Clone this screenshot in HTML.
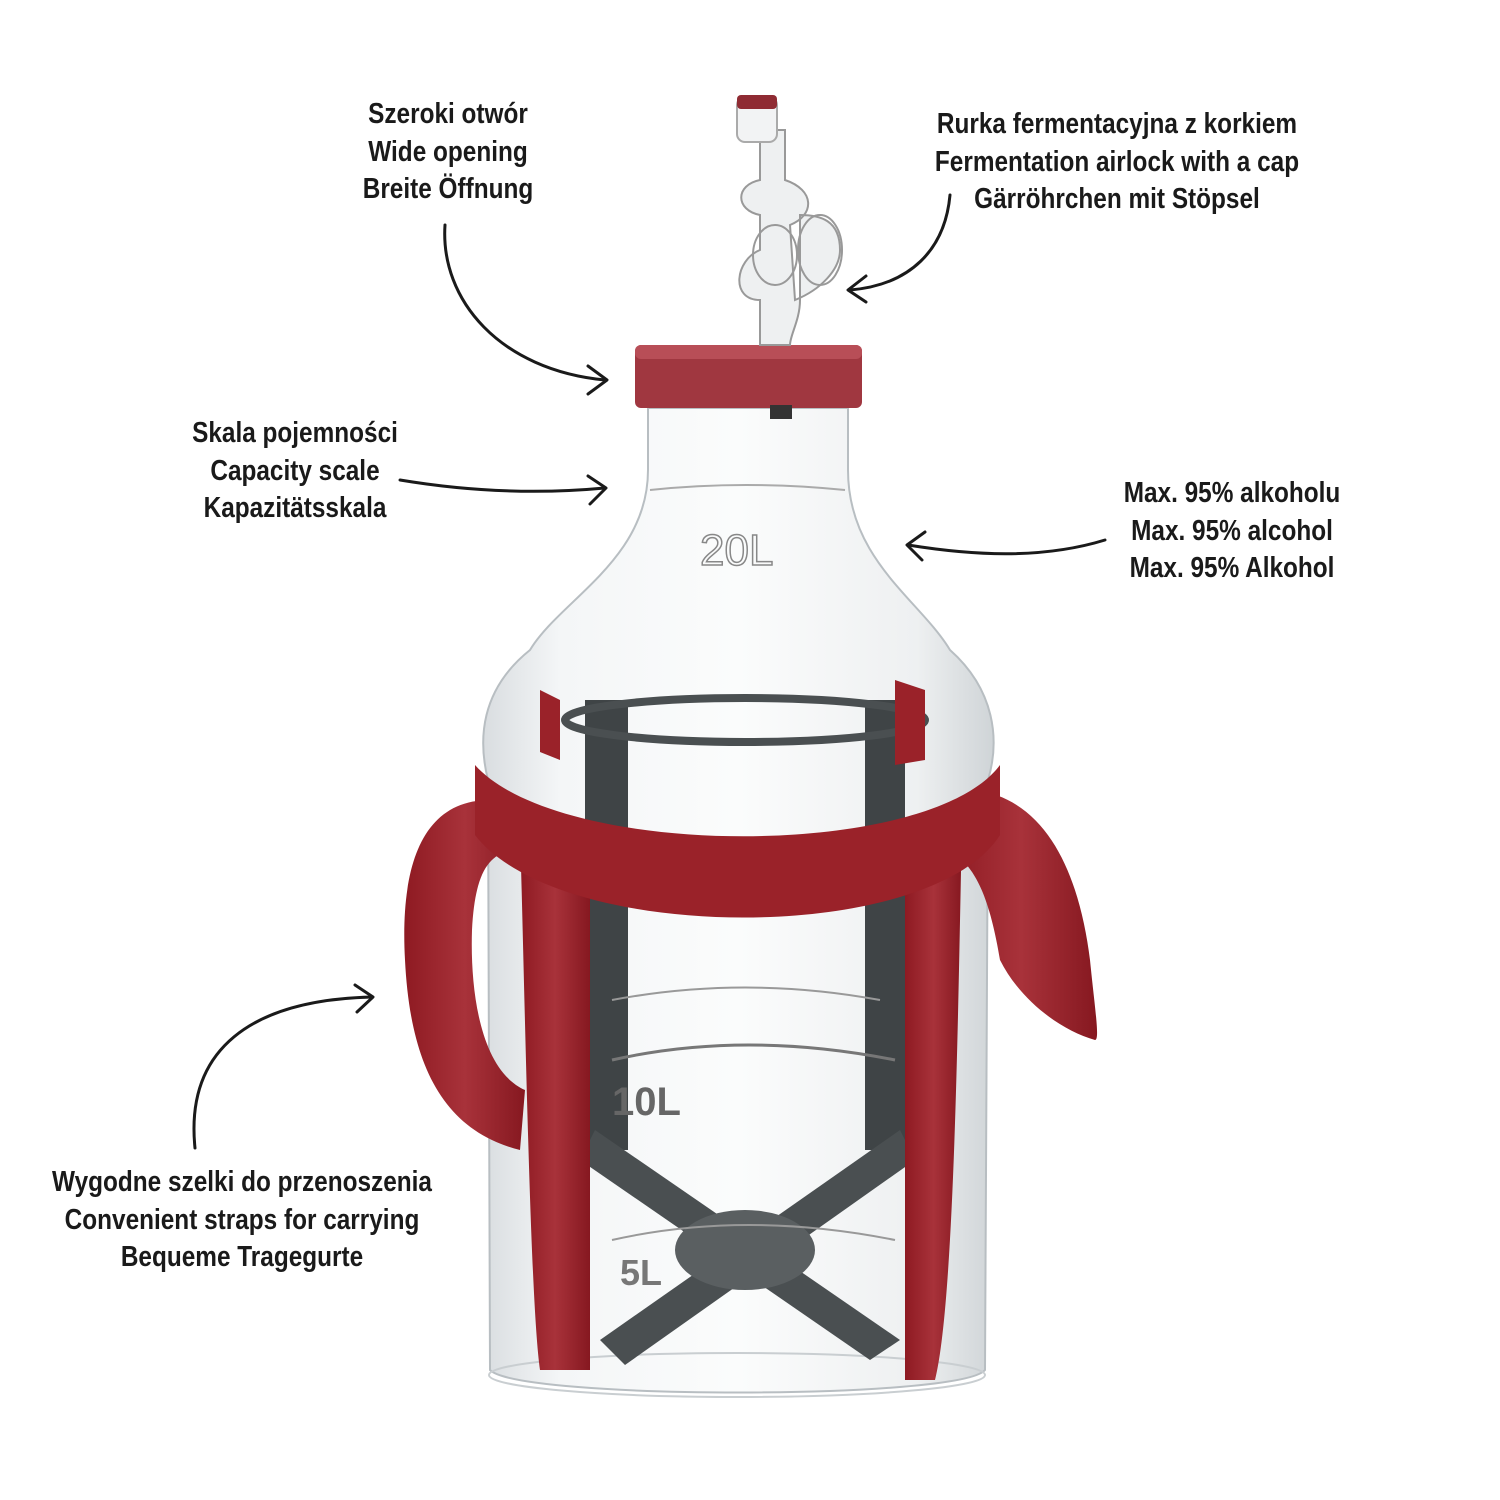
<!DOCTYPE html>
<html><head><meta charset="utf-8">
<style>
html,body{margin:0;padding:0;background:#fff;}
.wrap{position:relative;width:1500px;height:1500px;overflow:hidden;background:#fff;}
.t{position:absolute;font-family:"Liberation Sans",sans-serif;font-weight:bold;font-size:29px;line-height:37.5px;color:#1a1a1a;text-align:center;white-space:nowrap;transform:translateX(-50%) scaleX(0.84);}
svg{position:absolute;left:0;top:0;}
</style></head><body><div class="wrap">
<svg width="1500" height="1500" viewBox="0 0 1500 1500">
<defs>
<linearGradient id="glass" x1="0" x2="1">
<stop offset="0" stop-color="#d9dde0"/><stop offset="0.15" stop-color="#f4f6f7"/><stop offset="0.5" stop-color="#fbfcfc"/><stop offset="0.85" stop-color="#eef0f1"/><stop offset="1" stop-color="#cfd4d7"/></linearGradient>
<linearGradient id="red" x1="0" x2="1"><stop offset="0" stop-color="#8e1a22"/><stop offset="0.5" stop-color="#a8323a"/><stop offset="1" stop-color="#861820"/></linearGradient>
</defs>
<path d="M648 408 L648 470 C648 560 560 600 530 650 C480 690 478 740 488 780 L490 1370 C520 1400 960 1400 985 1370 L988 780 C1000 740 995 690 950 650 C920 600 848 560 848 470 L848 408 Z" fill="url(#glass)" stroke="#b8bec2" stroke-width="2"/>
<ellipse cx="737" cy="1375" rx="248" ry="22" fill="none" stroke="#c9ced1" stroke-width="2"/>
<path d="M585 700 L628 700 L628 1150 L585 1150 Z" fill="#3f4446"/>
<path d="M865 700 L905 700 L905 1150 L865 1150 Z" fill="#3f4446"/>
<path d="M595 1130 L900 1340 L870 1360 L580 1160 Z" fill="#4a4f51"/>
<path d="M900 1130 L600 1340 L625 1365 L915 1160 Z" fill="#4a4f51"/>
<ellipse cx="745" cy="1250" rx="70" ry="40" fill="#5a5f61"/>
<ellipse cx="745" cy="720" rx="180" ry="22" fill="none" stroke="#4a4f51" stroke-width="8"/>
<path d="M612 1060 Q745 1030 895 1060" fill="none" stroke="#777" stroke-width="3"/>
<path d="M612 1000 Q745 975 880 1000" fill="none" stroke="#999" stroke-width="2"/>
<path d="M650 490 Q745 480 845 490" fill="none" stroke="#aaa" stroke-width="2"/>
<path d="M612 1240 Q745 1210 895 1240" fill="none" stroke="#999" stroke-width="2"/>
<text x="700" y="565" font-family="Liberation Sans" font-size="44" fill="none" stroke="#888" stroke-width="1.5">20L</text>
<text x="612" y="1115" font-family="Liberation Sans" font-weight="bold" font-size="40" fill="#666">10L</text>
<text x="620" y="1285" font-family="Liberation Sans" font-weight="bold" font-size="36" fill="#777">5L</text>
<path d="M490 800 C420 800 400 870 405 960 C410 1060 440 1130 520 1150 L525 1090 C480 1070 470 990 472 930 C475 870 490 850 520 850 Z" fill="url(#red)"/>
<path d="M975 790 C1050 800 1080 880 1090 960 C1095 1010 1100 1040 1095 1040 C1060 1030 1020 1000 1000 960 C990 900 975 860 945 850 Z" fill="url(#red)"/>
<path d="M520 830 L590 835 L590 1370 L540 1370 C530 1300 525 1000 520 830 Z" fill="url(#red)"/>
<path d="M905 830 L962 825 C958 1000 955 1300 935 1380 L905 1380 Z" fill="url(#red)"/>
<path d="M475 765 C560 860 930 860 1000 765 L1000 835 C930 945 560 945 475 835 Z" fill="#9a2229"/>
<path d="M540 690 L560 700 L560 760 L540 752 Z M895 680 L925 690 L925 760 L895 765 Z" fill="#9a2229"/>
<rect x="635" y="345" width="227" height="63" rx="6" fill="#a03740"/>
<rect x="635" y="345" width="227" height="14" rx="6" fill="#b84e57"/>
<rect x="770" y="405" width="22" height="14" fill="#333"/>
<path d="M760 345 L760 300 C730 300 735 260 760 250 L760 215 C735 210 735 185 760 180 L760 130 L785 130 L785 180 C815 190 815 215 790 225 L795 300 C820 290 840 270 840 250 C840 220 820 215 800 215 L800 300 C800 320 790 335 790 345 Z" fill="#eef0f1" stroke="#999" stroke-width="2"/>
<ellipse cx="775" cy="255" rx="22" ry="30" fill="none" stroke="#999" stroke-width="2"/>
<ellipse cx="820" cy="250" rx="22" ry="35" fill="none" stroke="#999" stroke-width="2"/>
<rect x="737" y="97" width="40" height="45" rx="8" fill="#f2f3f4" stroke="#aaa" stroke-width="2"/>
<rect x="737" y="95" width="40" height="14" rx="4" fill="#8f2b33"/>
<g fill="none" stroke="#1a1a1a" stroke-width="3" stroke-linecap="round" stroke-linejoin="round">
<path d="M445 225 C440 300 500 370 605 380"/><path d="M588 366 L607 380 L588 394"/>
<path d="M950 195 C945 250 910 285 850 290"/><path d="M866 276 L848 290 L866 302"/>
<path d="M400 480 C460 490 530 495 605 488"/><path d="M588 476 L606 488 L590 504"/>
<path d="M1105 540 C1040 560 970 555 908 545"/><path d="M925 532 L907 545 L922 560"/>
<path d="M195 1148 C185 1050 250 1000 372 997"/><path d="M355 985 L373 997 L357 1012"/>
</g>
</svg>
<div class="t" style="left:448px;top:96px;">Szeroki otwór<br>Wide opening<br>Breite Öffnung</div>
<div class="t" style="left:1117px;top:106px;">Rurka fermentacyjna z korkiem<br>Fermentation airlock with a cap<br>Gärröhrchen mit Stöpsel</div>
<div class="t" style="left:295px;top:415px;">Skala pojemności<br>Capacity scale<br>Kapazitätsskala</div>
<div class="t" style="left:1232px;top:475px;">Max. 95% alkoholu<br>Max. 95% alcohol<br>Max. 95% Alkohol</div>
<div class="t" style="left:242px;top:1164px;">Wygodne szelki do przenoszenia<br>Convenient straps for carrying<br>Bequeme Tragegurte</div>
</div></body></html>
